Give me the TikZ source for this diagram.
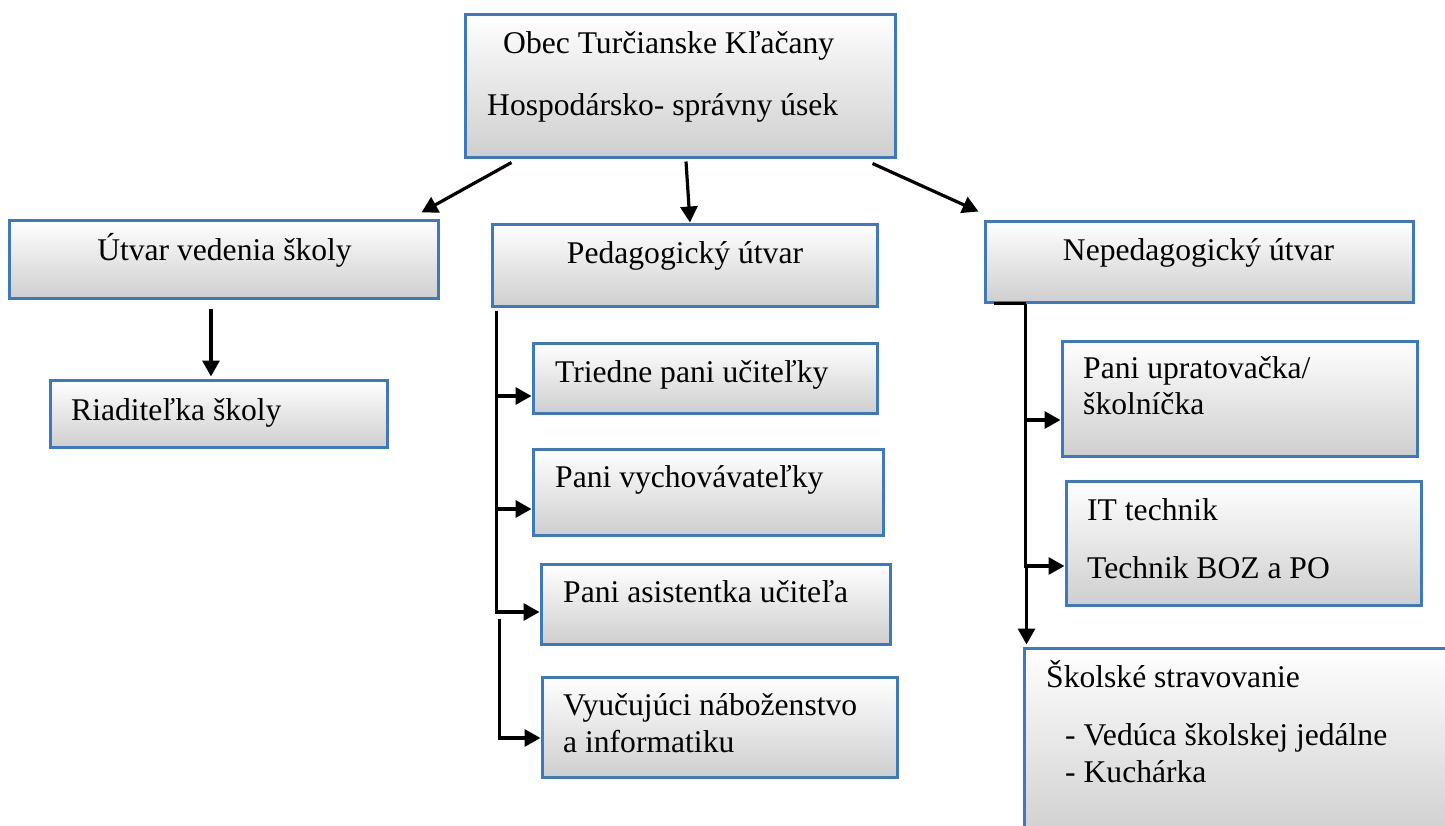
\documentclass[tikz,border=0pt]{standalone}
\usepackage{fontspec}
\setmainfont{Liberation Serif}
\usetikzlibrary{arrows.meta, calc}

\definecolor{boxblue}{RGB}{64,120,190}

\tikzset{
  unitbox/.style={draw=boxblue, line width=3pt, rectangle, inner sep=0pt,
    top color=white, middle color=black!3, bottom color=black!19},
  boxtext/.style={anchor=base west, inner sep=0pt, font=\fontsize{31.6}{36}\selectfont},
  midtext/.style={boxtext, anchor=base},
  link/.style={line width=3.2pt, -{Triangle[length=16pt,width=17pt]}},
  plainlink/.style={line width=3.2pt}
}

\begin{document}
\begin{tikzpicture}[x=1pt, y=-1pt]
  \useasboundingbox (0,0) rectangle (1445,825);
  \clip (0,0) rectangle (1445,825);

  % boxes
  \node[unitbox, minimum width=430pt, minimum height=143pt] (obec)   at (680,85.5)  {};
  \node[unitbox, minimum width=429pt, minimum height=78pt]  (utvar)  at (223.5,259) {};
  \node[unitbox, minimum width=337pt, minimum height=67pt]  (riad)   at (218.5,413.5) {};
  \node[unitbox, minimum width=385pt, minimum height=82pt]  (ped)    at (684.5,265) {};
  \node[unitbox, minimum width=344pt, minimum height=70pt]  (tried)  at (705,378)   {};
  \node[unitbox, minimum width=350pt, minimum height=86pt]  (vych)   at (708,492)   {};
  \node[unitbox, minimum width=349pt, minimum height=80pt]  (asist)  at (715.5,604) {};
  \node[unitbox, minimum width=355pt, minimum height=100pt] (vyuc)   at (719.5,727) {};
  \node[unitbox, minimum width=428pt, minimum height=81pt]  (neped)  at (1199,261.5) {};
  \node[unitbox, minimum width=355pt, minimum height=115pt] (uprat)  at (1239.5,398.5) {};
  \node[unitbox, minimum width=355pt, minimum height=124pt] (it)     at (1243.5,543) {};
  \node[unitbox, minimum width=436pt, minimum height=192pt] (strav)  at (1242,744)   {};

  % texts
  \node[boxtext] (obec-a) at (503,53)  {Obec Turčianske Kľačany};
  \node[boxtext] (obec-b) at (487,115) {Hospodársko- správny úsek};
  \node[midtext] (utvar-t) at (224.5,260) {Útvar vedenia školy};
  \node[boxtext] (riad-t) at (71,420) {Riaditeľka školy};
  \node[midtext] (ped-t) at (685,263) {Pedagogický útvar};
  \node[boxtext] (tried-t) at (555,382) {Triedne pani učiteľky};
  \node[boxtext] (vych-t) at (555,487) {Pani vychovávateľky};
  \node[boxtext] (asist-t) at (563,602) {Pani asistentka učiteľa};
  \node[boxtext] (vyuc-a) at (563,715) {Vyučujúci náboženstvo};
  \node[boxtext] (vyuc-b) at (563,752) {a informatiku};
  \node[midtext] (neped-t) at (1198.5,260) {Nepedagogický útvar};
  \node[boxtext] (uprat-a) at (1083,378) {Pani upratovačka/};
  \node[boxtext] (uprat-b) at (1083,414) {školníčka};
  \node[boxtext] (it-a) at (1087,520) {IT technik};
  \node[boxtext] (it-b) at (1087,578) {Technik BOZ a PO};
  \node[boxtext] (strav-a) at (1046,687) {Školské stravovanie};
  \node[boxtext] (strav-b) at (1065,745) {- Vedúca školskej jedálne};
  \node[boxtext] (strav-c) at (1065,782) {- Kuchárka};

  % top level
  \draw[link] ($(obec.south west)+(48,4)$) -- ($(utvar.north east)+(-18,-6)$);
  \draw[link] ($(obec.south)+(6,3)$) -- ($(ped.north)+(5.5,0)$);
  \draw[link] ($(obec.south east)+(-24,5)$) -- ($(neped.north west)+(-5,-8)$);
  \draw[link] ($(utvar.south)+(-12.5,9)$) -- ($(riad.north)+(-7.5,-2)$);

  % pedagogicky utvar
  \coordinate (pt1) at ($(ped.south west)+(6,3)$);
  \coordinate (pt2) at ($(pt1)+(3,308)$);
  \draw[link] (pt1) |- ($(tried.west)+(0,18)$);
  \draw[link] (pt1) |- ($(vych.west)+(0,17)$);
  \draw[link] (pt1) |- ($(asist.west)+(0,8)$);
  \draw[link] (pt2) |- ($(vyuc.west)+(0,11)$);

  % nepedagogicky utvar
  \coordinate (np1) at ($(neped.south west)+(10,0)$);
  \coordinate (np2) at ($(np1)+(32,0)$);
  \coordinate (np3) at ($(np2)+(1,264)$);
  \draw[plainlink] (np1) -- (np2);
  \draw[link] (np2) |- ($(uprat.west)+(0,21.5)$);
  \draw[link] (np2) |- ($(it.west)+(0,23)$);
  \draw[link] (np3) -- ($(strav.north west)+(4,-2)$);
\end{tikzpicture}
\end{document}
